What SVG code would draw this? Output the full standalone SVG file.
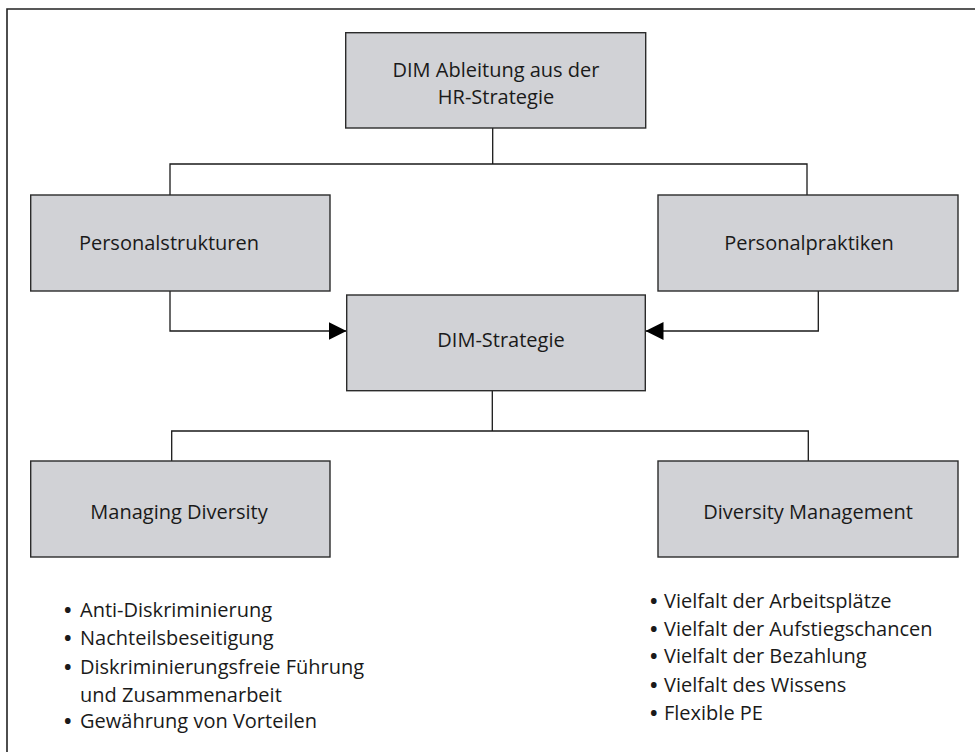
<svg xmlns="http://www.w3.org/2000/svg" width="975" height="752" viewBox="0 0 975 752">
  <style>
    .frame { fill: none; stroke: #222; stroke-width: 1.6; }
    .box { fill: #d1d2d6; stroke: #2b2b2b; stroke-width: 1.4; }
    .lbl { font-family: "Open Sans", "Liberation Sans", sans-serif; font-size: 20px; fill: #1a1a1a; text-anchor: middle; }
    .item { font-family: "Open Sans", "Liberation Sans", sans-serif; font-size: 20px; fill: #1a1a1a; }
    .dot { font-weight: bold; }
    .wire { fill: none; stroke: #1a1a1a; stroke-width: 1.3; }
  </style>
  <defs>
    <marker id="arrow" viewBox="0 0 18 18" refX="18" refY="9" markerWidth="18" markerHeight="18" markerUnits="userSpaceOnUse" orient="auto">
      <path d="M0,0 L18,9 L0,18 Z" fill="#000"/>
    </marker>
  </defs>

  <rect width="975" height="752" fill="#fff"/>
  <!-- outer frame (open to the right and bottom) -->
  <path class="frame" d="M7,760 V9 H985"/>

  <g id="connectors">
    <path class="wire" d="M492.7,128 V164 M170,195 V164 H807 V195"/>
    <path class="wire" d="M170,291 V331 H346.5" marker-end="url(#arrow)"/>
    <path class="wire" d="M818.3,291 V331 H645.5" marker-end="url(#arrow)"/>
    <path class="wire" d="M492.3,391 V431 M171.7,461 V431 H808.3 V461"/>
  </g>

  <g id="node-hr">
    <rect class="box" x="345.7" y="32.7" width="300" height="95.3"/>
    <text class="lbl" x="496" y="77">DIM Ableitung aus der</text>
    <text class="lbl" x="496" y="104">HR-Strategie</text>
  </g>

  <g id="node-strukturen">
    <rect class="box" x="30.7" y="195" width="299.3" height="96"/>
    <text class="lbl" x="169" y="250">Personalstrukturen</text>
  </g>

  <g id="node-praktiken">
    <rect class="box" x="658" y="195" width="300" height="96"/>
    <text class="lbl" x="809" y="250">Personalpraktiken</text>
  </g>

  <g id="node-strategie">
    <rect class="box" x="346.7" y="295" width="298.6" height="95.7"/>
    <text class="lbl" x="501" y="347">DIM-Strategie</text>
  </g>

  <g id="node-managing">
    <rect class="box" x="30.7" y="461" width="299.3" height="96"/>
    <text class="lbl" x="179" y="519">Managing Diversity</text>
  </g>

  <g id="node-management">
    <rect class="box" x="658" y="461" width="300" height="96"/>
    <text class="lbl" x="808" y="519">Diversity Management</text>
  </g>

  <g id="list-managing">
    <text class="item" y="617"><tspan class="dot" x="64">•</tspan><tspan x="80">Anti-Diskriminierung</tspan></text>
    <text class="item" y="645"><tspan class="dot" x="64">•</tspan><tspan x="80">Nachteilsbeseitigung</tspan></text>
    <text class="item" y="674"><tspan class="dot" x="64">•</tspan><tspan x="80">Diskriminierungsfreie Führung</tspan></text>
    <text class="item" y="702"><tspan x="80">und Zusammenarbeit</tspan></text>
    <text class="item" y="728"><tspan class="dot" x="64">•</tspan><tspan x="80">Gewährung von Vorteilen</tspan></text>
  </g>

  <g id="list-management">
    <text class="item" y="608"><tspan class="dot" x="650">•</tspan><tspan x="664">Vielfalt der Arbeitsplätze</tspan></text>
    <text class="item" y="636"><tspan class="dot" x="650">•</tspan><tspan x="664">Vielfalt der Aufstiegschancen</tspan></text>
    <text class="item" y="663"><tspan class="dot" x="650">•</tspan><tspan x="664">Vielfalt der Bezahlung</tspan></text>
    <text class="item" y="692"><tspan class="dot" x="650">•</tspan><tspan x="664">Vielfalt des Wissens</tspan></text>
    <text class="item" y="720"><tspan class="dot" x="650">•</tspan><tspan x="664">Flexible PE</tspan></text>
  </g>
</svg>
